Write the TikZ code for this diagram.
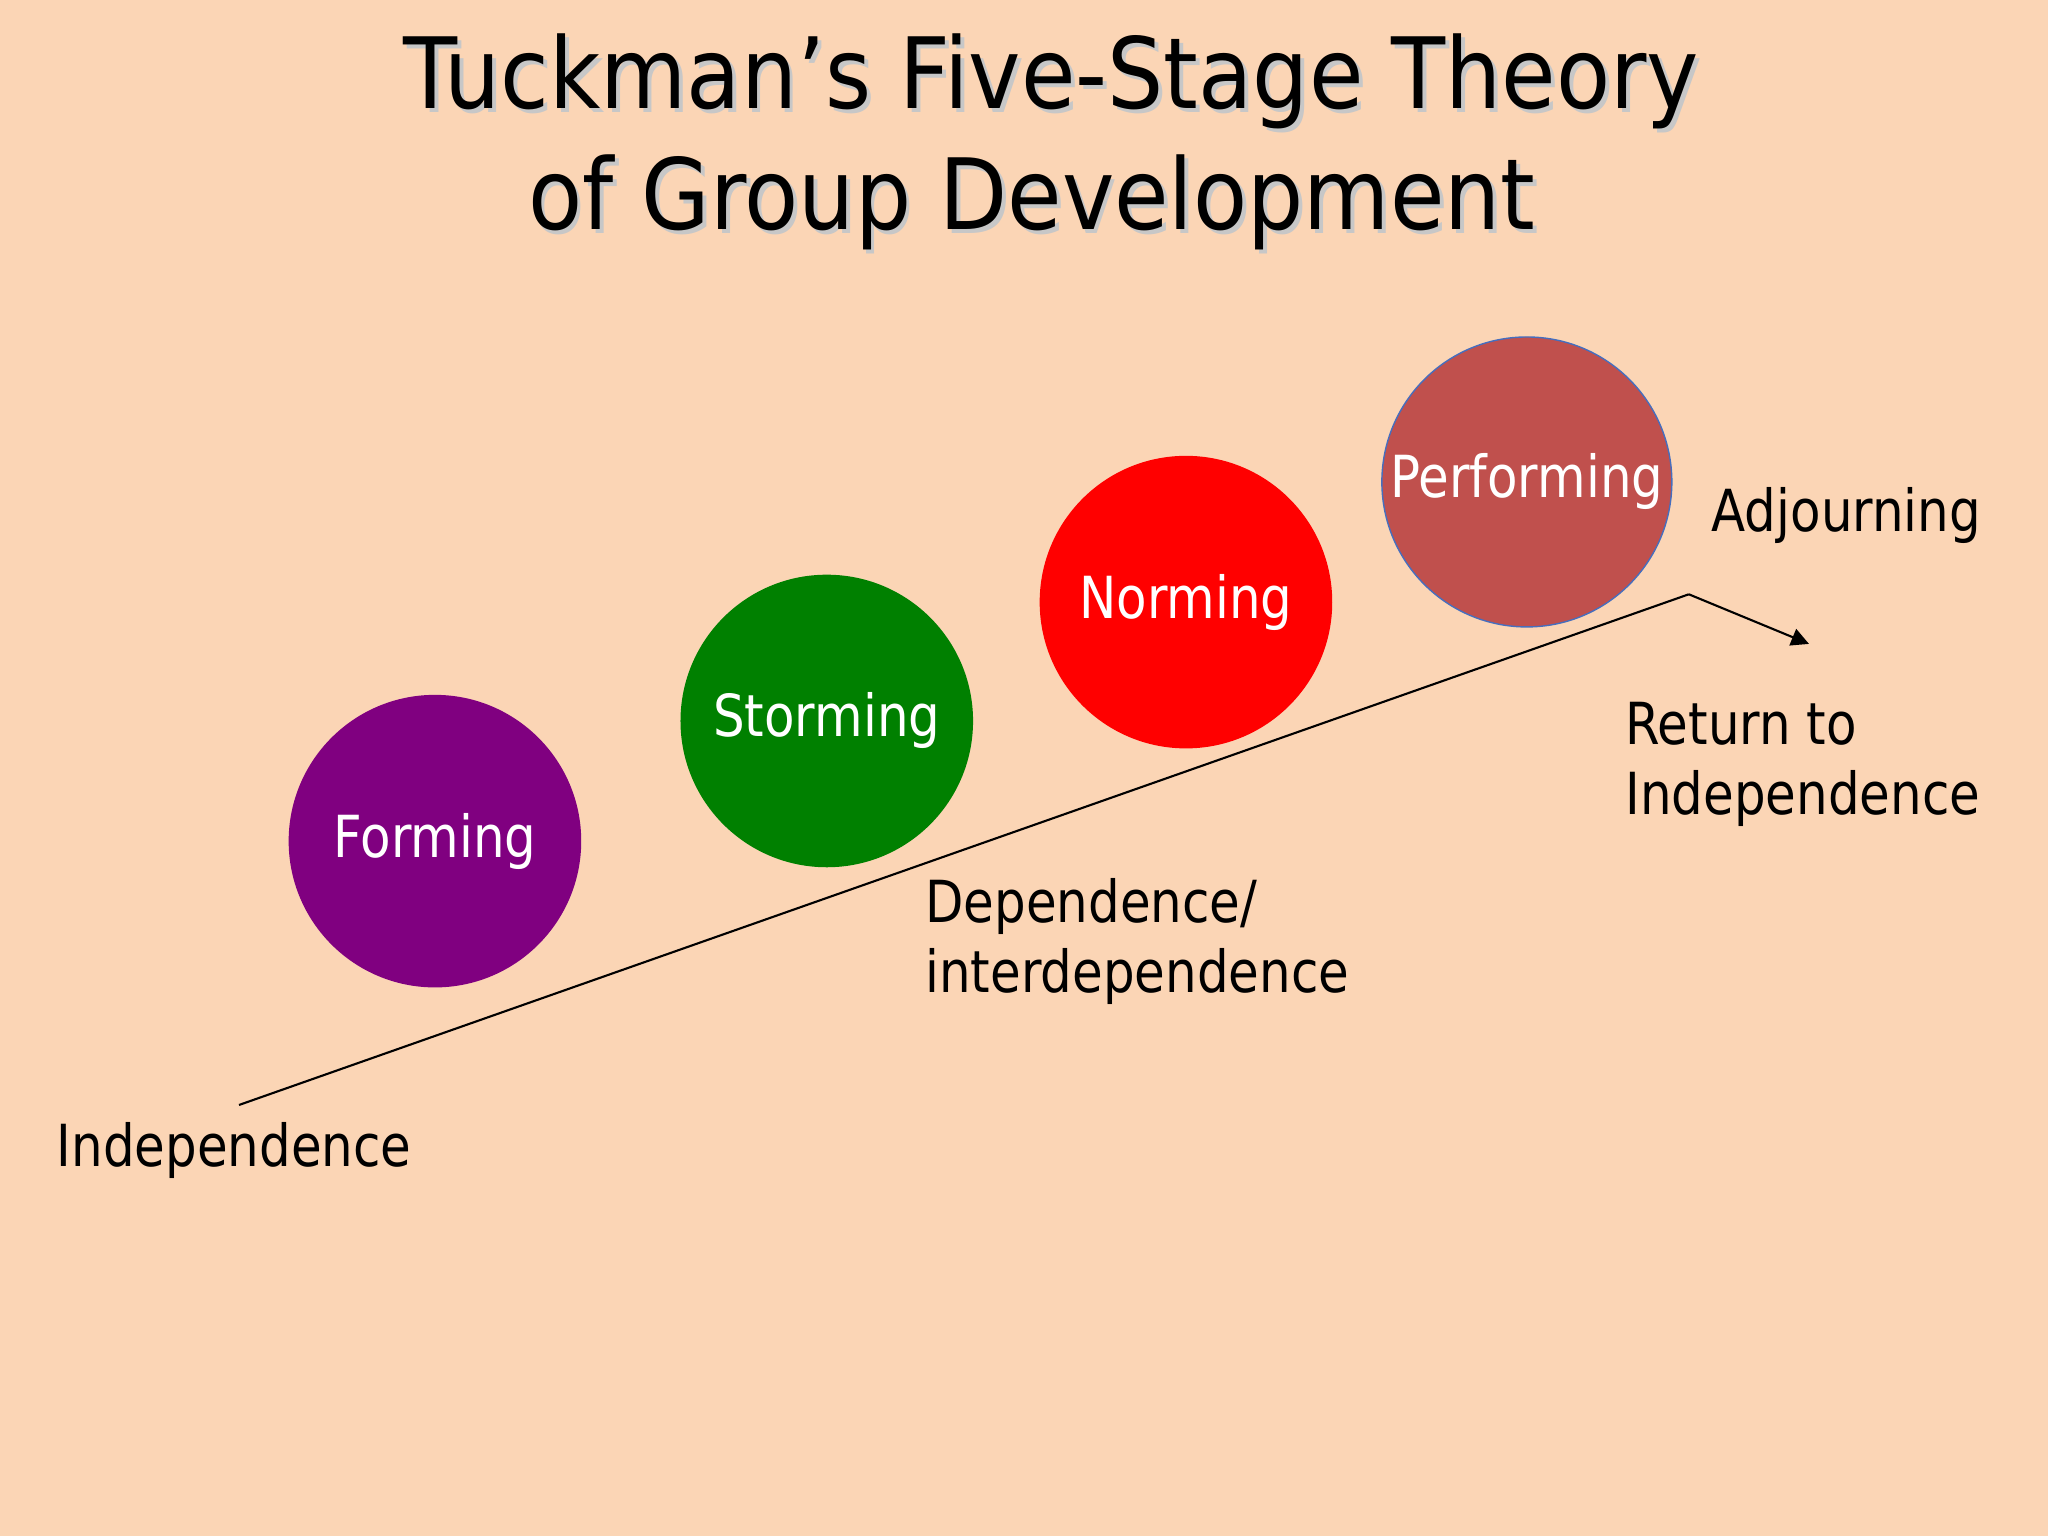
\documentclass[tikz,border=0pt]{standalone}
\usepackage{fontspec}
\setmainfont{DejaVu Sans}
\usetikzlibrary{arrows.meta}
\definecolor{bg}{HTML}{FBD5B5}
\definecolor{perf}{HTML}{C0504D}
\begin{document}
\begin{tikzpicture}[x=0.01306cm,y=-0.01306cm,
  stage/.style={circle,minimum size={224*0.01306cm},inner sep=0pt,text=white,font=\fontsize{16.5}{20}\selectfont\addfontfeature{FakeStretch=0.86}},
  lbl/.style={anchor=west,align=left,inner sep=0pt,font=\fontsize{16.5}{20}\selectfont\addfontfeature{FakeStretch=0.86}},
  ttl/.style={font=\fontsize{28}{34}\selectfont\addfontfeature{FakeStretch=0.9}}]
\fill[bg] (0,0) rectangle (1568,1176);
\useasboundingbox (0,0) rectangle (1568,1176);
\node[ttl,text=black!22] at (808,65) {Tuckman’s Five-Stage Theory};
\node[ttl,text=black!22] at (793,158) {of Group Development};
\node[ttl] (t1) at (805,62) {Tuckman’s Five-Stage Theory};
\node[ttl] (t2) at (790,155) {of Group Development};
\node[stage,fill={rgb,255:red,128;green,0;blue,128}] (f) at (333,644) {Forming};
\node[stage,fill={rgb,255:red,0;green,128;blue,0}] (s) at (633,552) {Storming};
\node[stage,fill=red] (n) at (908,461) {Norming};
\node[stage,fill=perf,draw={rgb,255:red,70;green,110;blue,190},minimum size={222*0.01306cm}] (p) at (1169,369) {\makebox[0pt]{Performing}};
\coordinate (a) at (183,846);
\coordinate (b) at (1293,455);
\coordinate (c) at (1385,493);
\draw[line width=0.6pt] (a) -- (b);
\draw[line width=0.6pt,-{Triangle[length=5pt,width=5pt]}] (b) -- (c);
\node[lbl] (ind) at (43,881) {Independence};
\node[lbl] (dep) at (708,721) {Dependence/\\interdependence};
\node[lbl] (ret) at (1244,585) {Return to\\Independence};
\node[lbl] (adj) at (1310,395) {Adjourning};
\end{tikzpicture}
\end{document}
